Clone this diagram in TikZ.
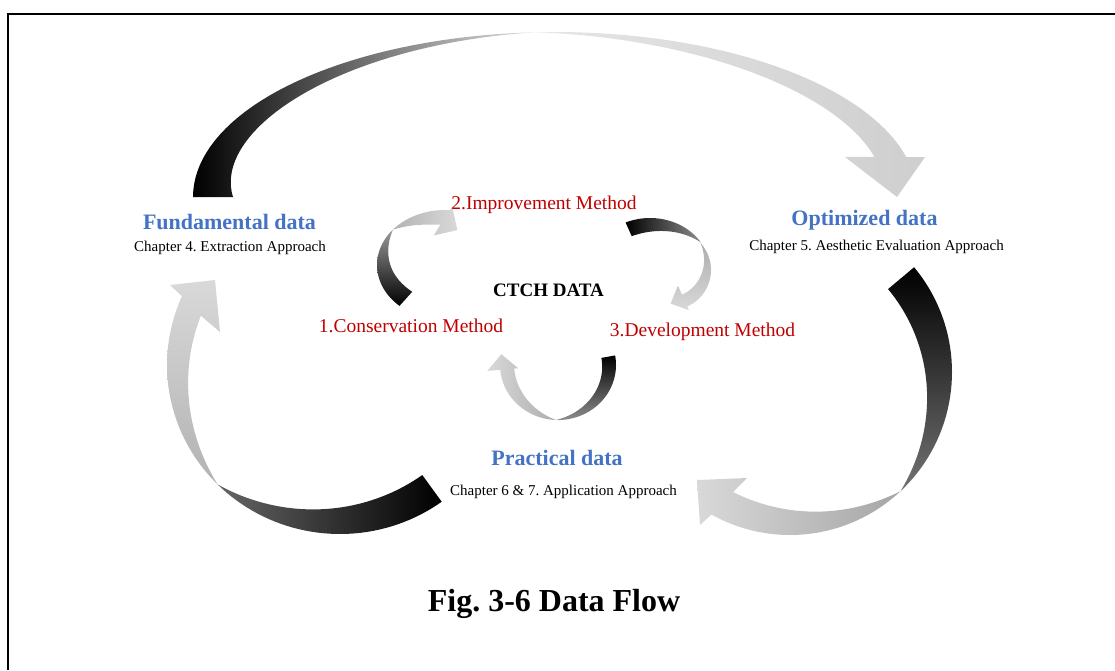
\documentclass[tikz,border=0pt]{standalone}
\usepackage{fontspec}
\setmainfont{Liberation Serif}
\frenchspacing
\definecolor{titleblue}{RGB}{68,114,196}
\definecolor{methodred}{RGB}{192,0,0}
\begin{document}
\begin{tikzpicture}[x=1pt,y=-1pt,
  declare function={ws(\u)=2*\u-\u*\u; wq(\u)=0.5*\u+0.5*\u*\u;},
  bp/.style={samples=40, variable=\t},
  title/.style={font=\fontsize{22}{26}\selectfont\bfseries, text=titleblue, anchor=base, inner sep=0pt},
  sub/.style={font=\fontsize{15}{18}\selectfont, anchor=base, inner sep=0pt},
  method/.style={font=\fontsize{19.5}{23}\selectfont, text=methodred, anchor=base, inner sep=0pt},
  core/.style={font=\fontsize{19}{23}\selectfont\bfseries, anchor=base, inner sep=0pt},
  caption/.style={font=\fontsize{32}{38}\selectfont\bfseries, anchor=base, inner sep=0pt},
  frame/.style={line width=2pt, black}]
\useasboundingbox (0,0) rectangle (1115,670);
\fill[white] (0,0) rectangle (1115,670);
\draw[frame] (8,670) -- (8,14) -- (1115,14);

% ---------- outer ring ----------
% top arrow: Fundamental -> Optimized
\shade[left color=black, middle color=black!80, right color=black!12]
  plot[bp, domain=180:93] ({555+362*cos(\t)},{197-165*sin(\t)})
  -- plot[bp, domain=93:180] ({555+(362-40*wq((\t-93)/87))*cos(\t)},{197-(165-40*wq((\t-93)/87))*sin(\t)})
  -- cycle;
\shade[left color=black!10, right color=black!19]
  plot[bp, domain=93:14] ({555+362*cos(\t)},{197-165*sin(\t)})
  -- (925,157) -- (897,197) -- (845,157)
  -- plot[bp, domain=17:93] ({555+(362-28*(93-\t)/76)*cos(\t)},{197-(165-28*(93-\t)/76)*sin(\t)})
  -- cycle;
% right arrow: Optimized -> Practical
\shade[top color=black, bottom color=black!55]
  plot[bp, domain=40:-47] ({790+162*cos(\t)},{372-163*sin(\t)})
  -- plot[bp, domain=-47:40] ({790+(162-34*ws((\t+47)/87))*cos(\t)},{372-(163-34*ws((\t+47)/87))*sin(\t)})
  -- cycle;
\shade[left color=black!15, right color=black!35]
  plot[bp, domain=-47:-119] ({790+162*cos(\t)},{372-163*sin(\t)})
  -- (700,525) -- (697,480) -- (747,478)
  -- plot[bp, domain=-115.5:-47] ({790+(162-30*ws((-47-\t)/72))*cos(\t)},{372-(163-30*ws((-47-\t)/72))*sin(\t)})
  -- cycle;
% left arrow: Practical -> Fundamental
\shade[left color=black!60, right color=black]
  plot[bp, domain=-54:-135] ({340+173*cos(\t)},{365-169*sin(\t)})
  -- plot[bp, domain=-135:-54] ({340+(173-33*ws((\t+135)/81))*cos(\t)},{365-(169-33*ws((\t+135)/81))*sin(\t)})
  -- cycle;
\shade[top color=black!15, bottom color=black!30]
  plot[bp, domain=-135:-204] ({340+173*cos(\t)},{365-169*sin(\t)})
  -- (170,285) -- (215,280) -- (220,332)
  -- plot[bp, domain=-200:-135] ({340+(173-25*ws((-135-\t)/69))*cos(\t)},{365-(169-25*ws((-135-\t)/69))*sin(\t)})
  -- cycle;

% ---------- inner ring ----------
% 1 -> 2
\shade[top color=black!40, bottom color=black]
  plot[bp, domain=228:140] ({445+68*cos(\t)},{265-55*sin(\t)})
  -- plot[bp, domain=140:228] ({445+(68-19*ws((\t-140)/88))*cos(\t)},{265-(55-19*ws((\t-140)/88))*sin(\t)})
  -- cycle;
\shade[left color=black!30, right color=black!15]
  plot[bp, domain=140:85.8] ({445+68*cos(\t)},{265-55*sin(\t)})
  -- (452.1,206.6) -- (457.4,230.1) -- (434,235.3)
  -- plot[bp, domain=95:140] ({445+(68-15*ws((140-\t)/54.2))*cos(\t)},{265-(55-15*ws((140-\t)/54.2))*sin(\t)})
  -- cycle;
% 2 -> 3
\shade[left color=black, right color=black!45]
  plot[bp, domain=114:32] ({650+60*cos(\t)},{270-52*sin(\t)})
  -- plot[bp, domain=32:114] ({650+(60-15*ws((\t-32)/82))*cos(\t)},{270-(52-15*ws((\t-32)/82))*sin(\t)})
  -- cycle;
\shade[top color=black!32, bottom color=black!15]
  plot[bp, domain=42.7:-66] ({671+40*cos(\t)},{270-40*sin(\t)})
  -- (688.9,310.2) -- (670.6,303.6) -- (677.9,285.6)
  -- plot[bp, domain=-66:42.7] ({671+(40-13*ws((42.7-\t)/108.7))*cos(\t)},{270-(40-13*ws((42.7-\t)/108.7))*sin(\t)})
  -- cycle;
% 3 -> 1
\shade[top color=black, bottom color=black!45]
  plot[bp, domain=10:-92] ({558+58*cos(\t)},{365-55*sin(\t)})
  -- plot[bp, domain=-92:10] ({558+(58-14*ws((\t+92)/102))*cos(\t)},{365-(55-14*ws((\t+92)/102))*sin(\t)})
  -- cycle;
\shade[left color=black!15, right color=black!32]
  plot[bp, domain=-92:-175] ({558+58*cos(\t)},{365-55*sin(\t)})
  -- (487.3,370.9) -- (501.4,354.2) -- (518.2,368.3)
  -- plot[bp, domain=-175:-92] ({558+(58-14*ws((-92-\t)/83))*cos(\t)},{365-(55-14*ws((-92-\t)/83))*sin(\t)})
  -- cycle;

% ---------- texts ----------
\node[title] (fund) at (229.5,229.5) {Fundamental data};
\node[sub] (fundsub) at (230,251.5) {Chapter 4. Extraction Approach};
\node[title] (opt) at (864.5,225.5) {Optimized data};
\node[sub] (optsub) at (876.5,250.7) {Chapter 5. Aesthetic Evaluation Approach};
\node[title] (prac) at (557,465.7) {Practical data};
\node[sub] (pracsub) at (563.5,495) {Chapter 6 \& 7. Application Approach};
\node[method] (m2) at (544,209.5) {2.Improvement Method};
\node[method] (m1) at (411,332.3) {1.Conservation Method};
\node[method] (m3) at (702.5,336.7) {3.Development Method};
\node[core] (ctch) at (548.5,296.6) {CTCH DATA};
\node[caption] (fig) at (554,611.7) {Fig. 3-6 Data Flow};
\end{tikzpicture}
\end{document}
